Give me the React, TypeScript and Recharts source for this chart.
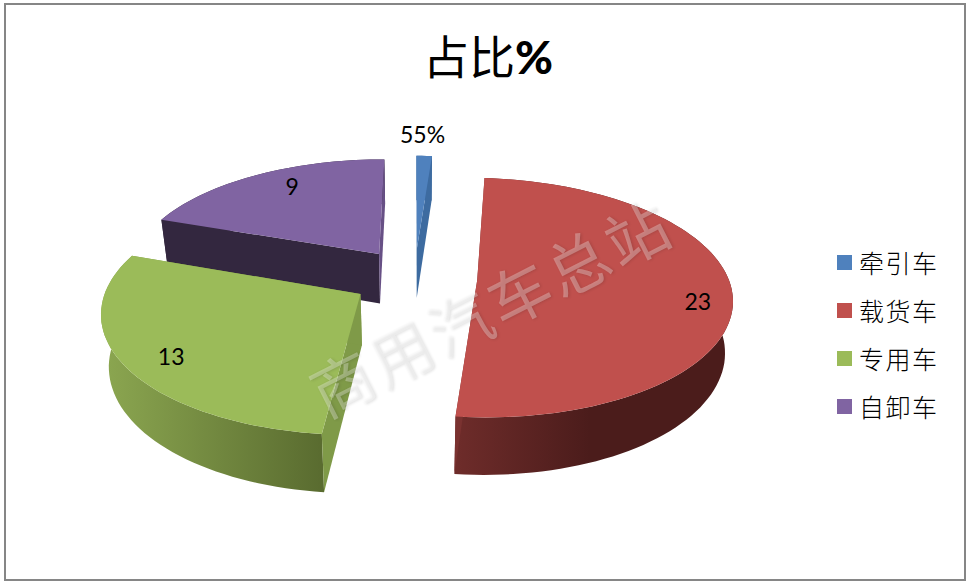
import { PieChart, Pie, Legend } from "recharts";

const categories = ["牵引车", "载货车", "专用车", "自卸车"];
const shares = [0.55, 23, 13, 9];
const shareLabels = ["55%", "23", "13", "9"];

const topColors = ["#4f81bd", "#c0504d", "#9bbb59", "#8064a2"];
const cutColors = ["#3d6ba0", "#7a3230", "#7f9a48", "#675085"];
const wallFrom = ["#3d6ba0", "#6e2c2a", "#8ba650", "#33273f"];
const wallTo = ["#3d6ba0", "#4b1c1b", "#5a6c30", "#33273f"];

// where each number sits: share of the radius, and turn away from the slice middle
const labelReach = [1.305, 0.862, 0.83, 0.8];
const labelTurn = [-1, 6, -2, 4];

// drawn back to front, so purple goes first and the pie runs counter-clockwise from 12 o'clock
const pieData = categories
  .map((name, i) => ({ name, value: shares[i], label: shareLabels[i], fill: topColors[i], idx: i }))
  .reverse();

// flat 3D look of the old Excel pie
const CX = 414.5;
const CY = 277.6;
const RX = 251;
const RY = 119;
const PERSP = 0.145;
const EXPLODE = 0.25;

const rad = (d: number) => (d * Math.PI) / 180;

// disc coordinates -> screen
function project(x: number, y: number) {
  const p = 1 + PERSP * y;
  return { x: CX + RX * x * p, y: CY + RY * y * p };
}

// same point on the underside of the pie
function drop(pt: { x: number; y: number }) {
  return {
    x: CX + (pt.x - CX) * 0.975,
    y: pt.y + 50.5 + 0.05 * (pt.y - CY),
  };
}

function apexOf(mid: number) {
  return { x: EXPLODE * Math.sin(rad(mid)), y: -EXPLODE * Math.cos(rad(mid)) };
}

function rimOf(apex: { x: number; y: number }, t: number, reach = 1) {
  return project(apex.x + reach * Math.sin(rad(t)), apex.y - reach * Math.cos(rad(t)));
}

const toPath = (pts: { x: number; y: number }[]) =>
  "M" + pts.map((p) => `${p.x.toFixed(1)},${p.y.toFixed(1)}`).join("L") + "Z";

function Slice3D(props: any) {
  const { startAngle, endAngle, payload } = props;
  const idx = payload.idx;
  const t1 = 90 - endAngle;
  const t2 = 90 - startAngle;
  const mid = (t1 + t2) / 2;
  const apex = apexOf(mid);
  const apexPt = project(apex.x, apex.y);

  const rim: { x: number; y: number }[] = [];
  const steps = Math.max(2, Math.ceil((t2 - t1) / 2));
  for (let i = 0; i <= steps; i++) {
    rim.push(rimOf(apex, t1 + ((t2 - t1) * i) / steps));
  }
  const under = rim.map(drop);
  const first = rim[0];
  const last = rim[rim.length - 1];
  const gid = `wall-${idx}`;

  return (
    <g>
      <defs>
        <linearGradient id={gid} gradientUnits="userSpaceOnUse"
          x1={idx === 1 ? 456 : 105} y1={0} x2={idx === 1 ? 590 : 320} y2={0}>
          <stop offset="0%" stopColor={wallFrom[idx]} />
          <stop offset="100%" stopColor={wallTo[idx]} />
        </linearGradient>
      </defs>
      <path d={toPath([...rim, ...[...under].reverse()])} fill={`url(#${gid})`} />
      <path d={toPath([first, apexPt, drop(apexPt), drop(first)])}
        fill={idx === 3 ? wallTo[3] : cutColors[idx]} />
      <path d={toPath([last, apexPt, drop(apexPt), drop(last)])}
        fill={idx === 3 ? cutColors[3] : cutColors[idx]} />
      <path d={toPath([apexPt, ...rim])} fill={topColors[idx]} />
    </g>
  );
}

function sliceLabel(props: any) {
  const { payload, midAngle } = props;
  const idx = payload.idx;
  const mid = 90 - midAngle;
  const pt = rimOf(apexOf(mid), mid + labelTurn[idx], labelReach[idx]);
  return (
    <text x={pt.x + 1} y={pt.y} textAnchor="middle" dominantBaseline="central"
      fontFamily="Lato, sans-serif" fontSize={23} fill="#000">
      {payload.label}
    </text>
  );
}

function LegendList({ payload }: any) {
  const items = [...(payload || [])].sort(
    (a: any, b: any) => categories.indexOf(a.value) - categories.indexOf(b.value)
  );
  return (
    <div>
      {items.map((it: any) => (
        <div key={it.value} style={{ display: "flex", alignItems: "center", height: 48 }}>
          <span style={{ width: 15, height: 15, background: it.color, marginRight: 7 }} />
          <span style={{ fontFamily: "'Noto Sans CJK SC'", fontSize: 25, fontWeight: 300, letterSpacing: 1.5, color: "#000" }}>
            {it.value}
          </span>
        </div>
      ))}
    </div>
  );
}

export default function App() {
  return (
    <div style={{ position: "absolute", left: 0, top: 0, width: 976, height: 586, background: "#fff" }}>
      <div style={{ position: "absolute", left: 4, top: 3, width: 958, height: 574, border: "2px solid #868686" }} />
      <PieChart width={976} height={586} accessibilityLayer={false} style={{ position: "absolute", left: 0, top: 0 }}>
        <text x={488} y={56} textAnchor="middle" dominantBaseline="central"
          fontFamily="Lato, 'Noto Sans CJK SC'" fontSize={46} fontWeight={400} fill="#000">
          占比<tspan fontWeight={900}>%</tspan>
        </text>
        <Pie
          data={pieData}
          dataKey="value"
          nameKey="name"
          cx={CX}
          cy={CY}
          outerRadius={120}
          startAngle={90}
          endAngle={450}
          stroke="none"
          shape={Slice3D}
          label={sliceLabel}
          labelLine={false}
          isAnimationActive={false}
        />
        <Legend content={LegendList} layout="vertical"
          wrapperStyle={{ position: "absolute", left: 837, top: 238, width: 128, bottom: "auto" }} />
      </PieChart>
      <div style={{
        position: "absolute", left: 290, top: 260, width: 400, textAlign: "center",
        fontFamily: "'Noto Sans CJK SC'", fontWeight: 400, fontSize: 62, letterSpacing: 4, whiteSpace: "nowrap",
        color: "rgba(255,255,255,0.3)", textShadow: "1px 1px 3px rgba(0,0,0,0.12)",
        transform: "rotate(-27deg)",
      }}>
        商用汽车总站
      </div>
    </div>
  );
}
